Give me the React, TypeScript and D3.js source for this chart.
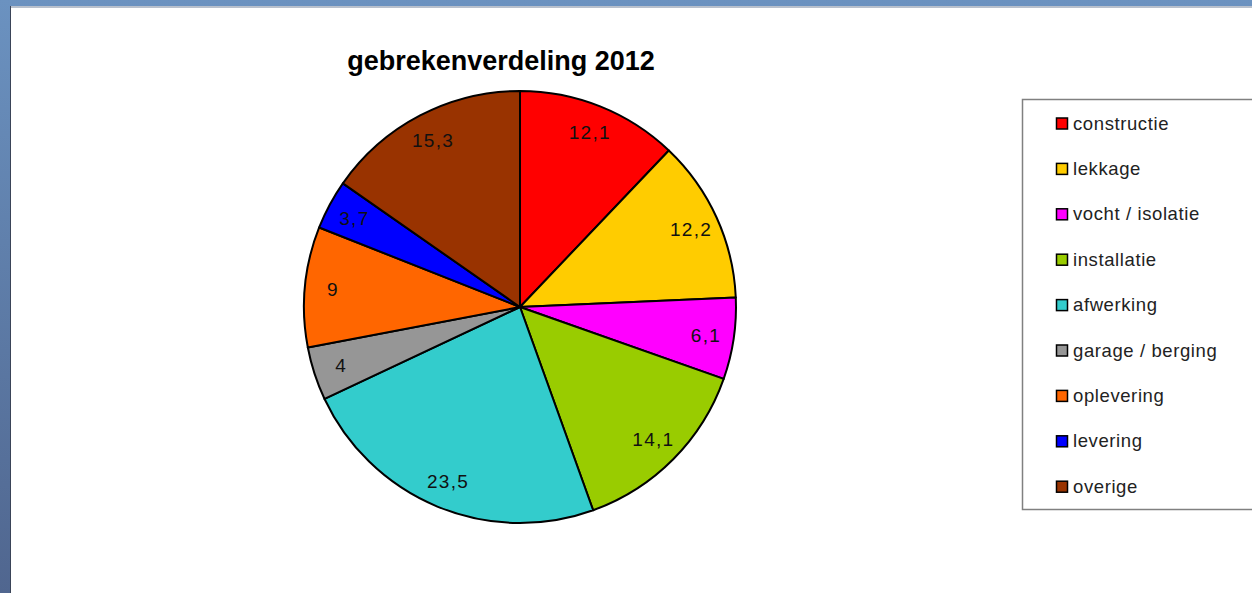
import { useEffect, useRef } from 'react';
import * as d3 from 'd3';

// gebrekenverdeling 2012 (percentages)
const categories = [
  'constructie',
  'lekkage',
  'vocht / isolatie',
  'installatie',
  'afwerking',
  'garage / berging',
  'oplevering',
  'levering',
  'overige',
];
const values = [12.1, 12.2, 6.1, 14.1, 23.5, 4, 9, 3.7, 15.3];
const valueLabels = ['12,1', '12,2', '6,1', '14,1', '23,5', '4', '9', '3,7', '15,3'];
const colors = ['#ff0000', '#ffcc00', '#ff00ff', '#99cc00', '#33cccc', '#969696', '#ff6600', '#0000ff', '#993300'];
const title = 'gebrekenverdeling 2012';

interface Slice {
  label: string;
  value: number;
  text: string;
  color: string;
}

const W = 1252;
const H = 593;

export default function App() {
  const ref = useRef<SVGSVGElement | null>(null);

  useEffect(() => {
    const data: Slice[] = categories.map((c, i) => ({
      label: c,
      value: values[i],
      text: valueLabels[i],
      color: colors[i],
    }));

    const svg = d3.select(ref.current);
    svg.selectAll('*').remove();

    // window frame
    const defs = svg.append('defs');
    const grad = defs.append('linearGradient')
      .attr('id', 'frame')
      .attr('x1', 0).attr('y1', 0).attr('x2', 0).attr('y2', 1);
    grad.append('stop').attr('offset', '0%').attr('stop-color', '#6b92c0');
    grad.append('stop').attr('offset', '100%').attr('stop-color', '#50668f');

    svg.append('rect').attr('width', W).attr('height', H).attr('fill', 'url(#frame)');
    svg.append('rect').attr('x', 10).attr('y', 6).attr('width', W).attr('height', H).attr('fill', '#3a4458');
    svg.append('rect').attr('x', 11).attr('y', 6).attr('width', W).attr('height', 2).attr('fill', '#b8c0cc');
    svg.append('rect').attr('x', 11).attr('y', 8).attr('width', W).attr('height', H).attr('fill', '#ffffff');

    // title
    svg.append('text')
      .attr('x', 501)
      .attr('y', 70)
      .attr('text-anchor', 'middle')
      .attr('font-family', 'Liberation Sans, Arial, sans-serif')
      .attr('font-weight', 'bold')
      .attr('font-size', 27)
      .attr('fill', '#000')
      .text(title);

    // pie
    const radius = 216;
    const g = svg.append('g').attr('transform', 'translate(520,307)');

    const pie = d3.pie<Slice>().value(d => d.value).sort(null);
    const arc = d3.arc<d3.PieArcDatum<Slice>>().innerRadius(0).outerRadius(radius);
    const labelArc = d3.arc<d3.PieArcDatum<Slice>>().innerRadius(188).outerRadius(188);

    const arcs = g.selectAll('g.slice').data(pie(data)).enter().append('g').attr('class', 'slice');

    arcs.append('path')
      .attr('d', arc)
      .attr('fill', d => d.data.color)
      .attr('stroke', '#000')
      .attr('stroke-width', 2)
      .attr('stroke-linejoin', 'round');

    arcs.append('text')
      .attr('transform', d => `translate(${labelArc.centroid(d)})`)
      .attr('text-anchor', 'middle')
      .attr('dy', '0.36em')
      .attr('font-family', 'Liberation Sans, Arial, sans-serif')
      .attr('font-size', 19)
      .attr('letter-spacing', 1.3)
      .attr('fill', '#111')
      .text(d => d.data.text);

    // legend
    const legend = svg.append('g');
    legend.append('rect')
      .attr('x', 1022.5)
      .attr('y', 99.5)
      .attr('width', 260)
      .attr('height', 410)
      .attr('fill', '#fff')
      .attr('stroke', '#808080')
      .attr('stroke-width', 1.5);

    const item = legend.selectAll('g.item')
      .data(data)
      .enter().append('g')
      .attr('class', 'item')
      .attr('transform', (d, i) => `translate(1056,${123 + i * 45.4})`);

    item.append('rect')
      .attr('x', 0.5)
      .attr('y', -5)
      .attr('width', 11)
      .attr('height', 11)
      .attr('fill', d => d.color)
      .attr('stroke', '#000')
      .attr('stroke-width', 1.5);

    item.append('text')
      .attr('x', 17)
      .attr('y', 0)
      .attr('dy', '0.36em')
      .attr('font-family', 'Liberation Sans, Arial, sans-serif')
      .attr('font-size', 18.5)
      .attr('letter-spacing', 0.6)
      .attr('fill', '#222')
      .text(d => d.label);
  }, []);

  return (
    <svg
      ref={ref}
      width={W}
      height={H}
      style={{ position: 'absolute', left: 0, top: 0, display: 'block' }}
    ></svg>
  );
}
